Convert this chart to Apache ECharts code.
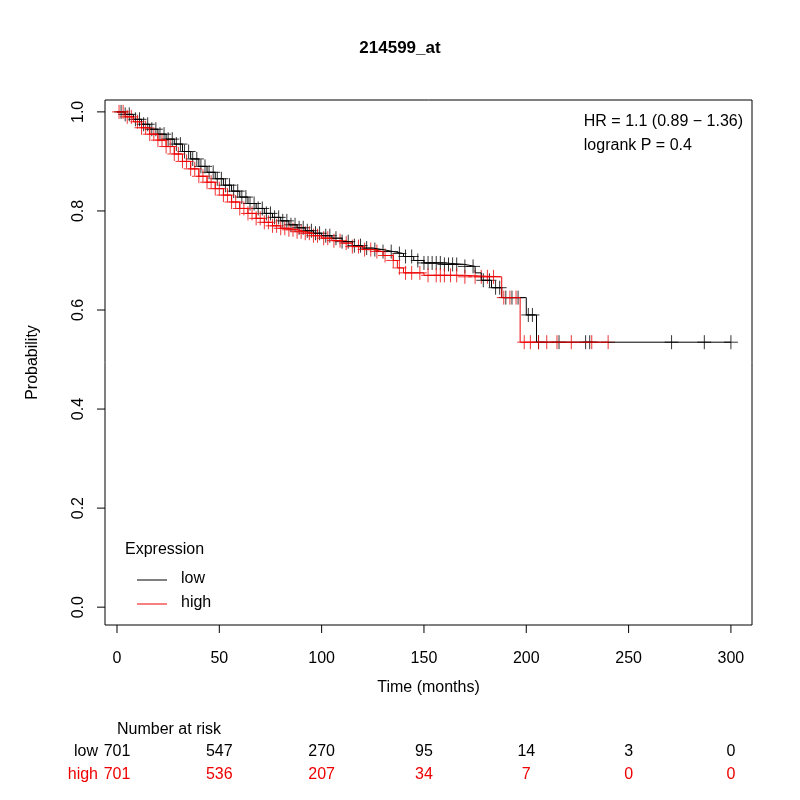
<!DOCTYPE html><html><head><meta charset="utf-8"><script src="https://cdn.jsdelivr.net/npm/echarts@6/dist/echarts.min.js"></script></head><body style="margin:0"><div id="c" style="width:800px;height:800px"></div><script>
var lowT=[0,4,8,12,16,20,24,28,32,36,40,44,48,52,56,60,64,68,72,76,80,84,88,92,96,100,105,110,115,120,125,130,135,140,145,150,160,170,175,178,183,188,200,205,300];
var lowS=[1,0.995,0.985,0.975,0.965,0.955,0.945,0.935,0.92,0.905,0.89,0.878,0.865,0.852,0.84,0.828,0.815,0.805,0.795,0.787,0.78,0.772,0.766,0.76,0.755,0.75,0.745,0.738,0.73,0.725,0.722,0.718,0.714,0.708,0.70,0.695,0.692,0.688,0.675,0.66,0.645,0.625,0.59,0.535,0.535];
var highT=[0,4,8,12,16,20,24,28,32,36,40,44,48,52,56,60,64,68,72,76,80,84,88,92,96,100,105,110,115,120,125,130,135,137,140,150,170,188,197,240];
var highS=[1,0.99,0.98,0.968,0.955,0.943,0.93,0.915,0.9,0.885,0.87,0.858,0.845,0.832,0.818,0.805,0.795,0.785,0.777,0.77,0.765,0.762,0.758,0.755,0.75,0.745,0.74,0.735,0.728,0.722,0.718,0.71,0.70,0.685,0.675,0.67,0.667,0.625,0.535,0.535];
var lowCens=[2,4,6,9,11,13,15,17,19,21,23,25,27,29,31,33,35,37,39,41,43,45,47,49,51,53,55,57,59,61,63,65,67,69,71,73,75,77,79,81,83,85,87,89,91,93,95,97,99,102,104,107,110,113,116,119,122,126,130,134,138,141,144,147,150,152,154,156,158,160,162,164,166,170,174,179,182,185,187,190,193,196,201,203,206,216,229,231,271,287,300];
var highCens=[1,3,5,7,10,12,14,16,18,20,22,24,26,28,30,32,34,36,38,40,42,44,46,48,50,52,54,56,58,60,62,64,66,68,70,72,74,76,78,80,82,84,86,88,90,92,94,96,98,101,103,106,109,112,115,118,121,124,127,131,135,138,141,144,148,152,156,158,160,163,166,170,175,178,181,184,189,192,195,199,202,206,210,215,222,232,240];
var riskTimes=[0,50,100,150,200,250,300];
var riskLow=[701,547,270,95,14,3,0];
var riskHigh=[701,536,207,34,7,0,0];
var xTicks=[0,50,100,150,200,250,300];
var yTicks=[0,0.2,0.4,0.6,0.8,1.0];
function stepAt(T,S,t){var v=S[0];for(var i=0;i<T.length;i++){if(T[i]<=t)v=S[i];}return v;}
function cens(T,S,C){return C.map(function(t){return [t,stepAt(T,S,t)];});}
var plus='path://M0,-1L0,1M-1,0L1,0';
var ch=echarts.init(document.getElementById('c'));
var gl=105,gr=752,gt=100,gb=625,xmin=-5.86,xmax=310.3,ymin=-0.036,ymax=1.024;
function px(t){return gl+(t-xmin)/(xmax-xmin)*(gr-gl);}
function py(v){return gb-(v-ymin)/(ymax-ymin)*(gb-gt);}
var F='Liberation Sans, Arial';
var g=[];
g.push({type:'text',left:'center',top:40,style:{text:'214599_at',font:'bold 17px '+F,fill:'#000'}});
g.push({type:'text',right:57,top:110,style:{text:'HR = 1.1 (0.89 \u2212 1.36)\nlogrank P = 0.4',font:'16px '+F,fill:'#000',align:'right',lineHeight:24}});
g.push({type:'text',left:125,top:542,style:{text:'Expression',font:'16px '+F,fill:'#000'}});
g.push({type:'line',shape:{x1:137,y1:580,x2:167,y2:580},style:{stroke:'#000',lineWidth:1}});
g.push({type:'line',shape:{x1:137,y1:604,x2:167,y2:604},style:{stroke:'#e00',lineWidth:1}});
g.push({type:'text',left:181,top:571,style:{text:'low',font:'16px '+F,fill:'#000'}});
g.push({type:'text',left:181,top:595,style:{text:'high',font:'16px '+F,fill:'#000'}});
g.push({type:'text',left:117,top:722,style:{text:'Number at risk',font:'16px '+F,fill:'#000'}});
g.push({type:'text',x:98,y:752,style:{text:'low',font:'16px '+F,fill:'#000',align:'right',verticalAlign:'middle'}});
g.push({type:'text',x:98,y:775,style:{text:'high',font:'16px '+F,fill:'#e00',align:'right',verticalAlign:'middle'}});
riskTimes.forEach(function(t,i){
 g.push({type:'text',x:px(t),y:752,style:{text:String(riskLow[i]),font:'16px '+F,fill:'#000',align:'center',verticalAlign:'middle'}});
 g.push({type:'text',x:px(t),y:775,style:{text:String(riskHigh[i]),font:'16px '+F,fill:'#e00',align:'center',verticalAlign:'middle'}});
});
xTicks.forEach(function(t){g.push({type:'line',shape:{x1:px(t),y1:gb,x2:px(t),y2:gb+8},style:{stroke:'#000',lineWidth:1}});});
yTicks.forEach(function(v){g.push({type:'line',shape:{x1:gl-8,y1:py(v),x2:gl,y2:py(v)},style:{stroke:'#000',lineWidth:1}});});
g.push({type:'rect',shape:{x:gl,y:gt,width:gr-gl,height:gb-gt},style:{fill:'none',stroke:'#000',lineWidth:1}});
ch.setOption({animation:false,graphic:g,
grid:{left:gl,right:800-gr,top:gt,bottom:800-gb},
xAxis:{type:'value',min:xmin,max:xmax,splitLine:{show:false},axisLine:{show:false},axisTick:{show:false},
 axisLabel:{customValues:xTicks,color:'#000',fontSize:16,fontFamily:F,margin:26},
 name:'Time (months)',nameLocation:'middle',nameGap:55,nameTextStyle:{color:'#000',fontSize:16,fontFamily:F}},
yAxis:{type:'value',min:ymin,max:ymax,splitLine:{show:false},axisLine:{show:false},axisTick:{show:false},
 axisLabel:{customValues:yTicks,rotate:90,color:'#000',fontSize:16,fontFamily:F,margin:18,formatter:function(v){return v.toFixed(1);}},
 name:'Probability',nameLocation:'middle',nameGap:64,nameTextStyle:{color:'#000',fontSize:16,fontFamily:F}},
series:[
 {type:'line',step:'end',symbol:'none',data:lowT.map(function(t,i){return [t,lowS[i]];}),lineStyle:{color:'#000',width:1}},
 {type:'line',step:'end',symbol:'none',data:highT.map(function(t,i){return [t,highS[i]];}),lineStyle:{color:'#e00',width:1}},
 {type:'scatter',symbol:plus,symbolSize:14,data:cens(lowT,lowS,lowCens),itemStyle:{color:'none',borderColor:'#000',borderWidth:1}},
 {type:'scatter',symbol:plus,symbolSize:14,data:cens(highT,highS,highCens),itemStyle:{color:'none',borderColor:'#e00',borderWidth:1}}
]});
</script></body></html>
